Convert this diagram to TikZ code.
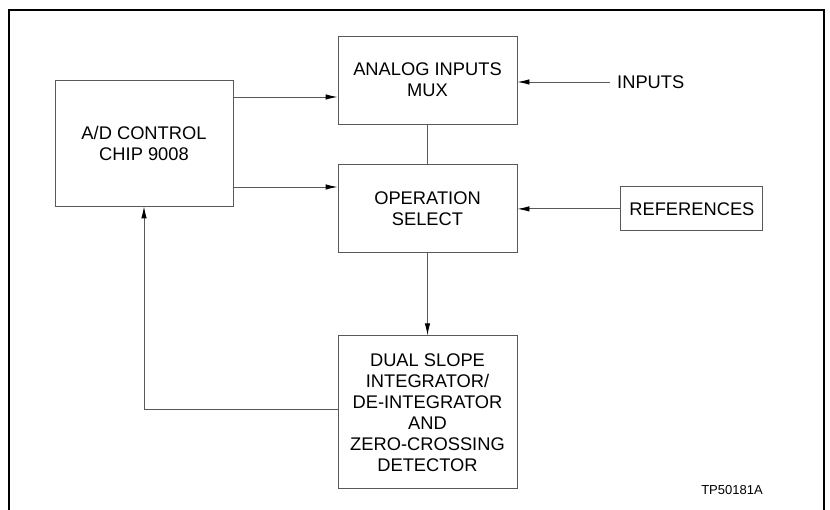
\documentclass[tikz,border=0pt]{standalone}
\usepackage{fontspec}
\setmainfont{Liberation Sans}
\usetikzlibrary{arrows.meta,calc,positioning}

\begin{document}
\begin{tikzpicture}[x=1pt,y=1pt,font=\fontsize{18.3}{21}\selectfont,
  block/.style={draw=black!65,line width=.9pt,rectangle,align=center,inner sep=0pt},
  flow/.style={draw=black!65,line width=.9pt,-{Latex[length=12pt,width=5.5pt,color=black]}},
  wire/.style={draw=black!65,line width=.9pt}]
  \useasboundingbox (0,0) rectangle (830,510);
  \draw[line width=1.2pt] (9,0) -- (9,500) -- (824,500) -- (824,0);
  \node[block,minimum width=179pt,minimum height=88pt] at (427.5,430) (mux) {ANALOG INPUTS\\MUX};
  \node[block,minimum width=179pt,minimum height=88pt,below=40pt of mux] (opsel) {OPERATION\\SELECT};
  \node[block,minimum width=179pt,minimum height=153pt,below=82pt of opsel] (dual) {DUAL SLOPE\\INTEGRATOR/\\DE-INTEGRATOR\\AND\\ZERO-CROSSING\\DETECTOR};
  \node[block,minimum width=178pt,minimum height=126pt] at (144,367) (adc) {A/D CONTROL\\CHIP 9008};
  \node[block,minimum width=142pt,minimum height=44pt,right=103pt of opsel] (refs) {REFERENCES};
  \node[anchor=west,inner sep=7pt] at (610,428) (inputs) {INPUTS};
  \node[font=\fontsize{13}{15}\selectfont] at (732,20) (tag) {TP50181A};
  \coordinate (adc top) at ([yshift=46pt]adc.east);
  \coordinate (adc bot) at ([yshift=-44pt]adc.east);
  \draw[flow] (adc top) -- (adc top -| mux.west);
  \draw[flow] (adc bot) -- (adc bot -| opsel.west);
  \draw[flow] (inputs.west) -- (inputs.west -| mux.east);
  \draw[flow] (refs.west) -- (opsel.east);
  \draw[wire] (mux.south) -- (opsel.north);
  \draw[flow] (opsel.south) -- (dual.north);
  \draw[flow] ([yshift=3pt]dual.west) -| (adc.south);
\end{tikzpicture}
\end{document}
